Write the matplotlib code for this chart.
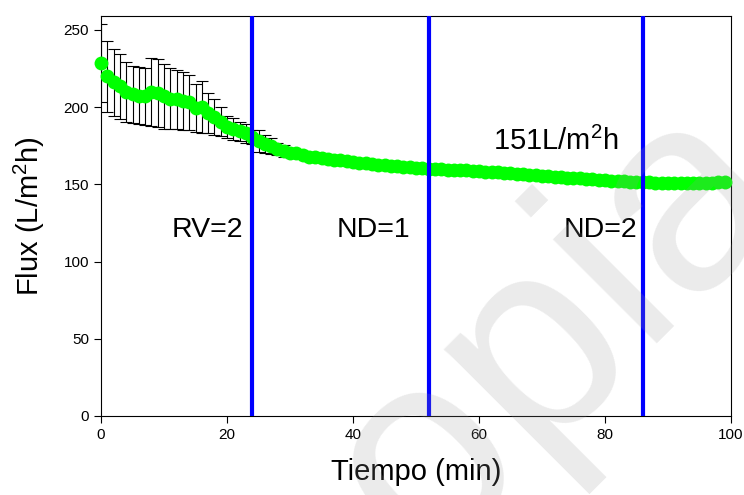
import numpy as np
import matplotlib
matplotlib.use("Agg")
import matplotlib.pyplot as plt

plt.rcParams['font.family'] = ['Liberation Sans', 'DejaVu Sans']
plt.rcParams['mathtext.fontset'] = 'custom'
plt.rcParams['mathtext.rm'] = 'Liberation Sans'
plt.rcParams['mathtext.it'] = 'Liberation Sans'

# time (min) and mean flux (L/m2h)
tiempo = list(range(100))
flux = [228.5, 220.0, 216.0, 213.5, 210.0, 208.4, 207.5, 207.0, 209.5, 209.0,
        207.0, 205.5, 205.0, 204.0, 203.0, 199.5, 200.0, 196.0, 193.5, 190.5,
        187.0, 186.0, 184.3, 183.0, 180.5, 178.0, 176.0, 174.7, 172.8, 171.7,
        170.5, 170.0, 169.0, 168.0, 167.5, 167.0, 166.5, 166.0, 165.5, 165.0,
        164.5, 164.0, 163.5, 163.0, 162.8, 162.5, 162.0, 161.7, 161.4, 161.0,
        160.8, 160.5, 160.2, 160.0, 159.8, 159.6, 159.4, 159.2, 159.0, 158.8,
        158.5, 158.2, 158.0, 157.7, 157.4, 157.1, 156.8, 156.5, 156.2, 155.9,
        155.6, 155.3, 155.0, 154.7, 154.4, 154.1, 153.8, 153.5, 153.2, 153.0,
        152.7, 152.4, 152.1, 151.9, 151.7, 151.5, 151.3, 151.2, 151.1, 151.0,
        151.0, 150.9, 150.9, 150.9, 151.0, 151.0, 151.1, 151.1, 151.2, 151.2]
# standard deviation, only measured for the first 30 min
err = [25.0, 23.0, 21.6, 21.0, 19.5, 18.5, 18.5, 18.5, 22.0, 22.0,
       21.0, 19.5, 19.0, 19.0, 18.0, 15.5, 17.0, 13.0, 11.5, 9.5,
       7.0, 7.0, 6.3, 6.0, 4.5, 7.0, 6.0, 5.2, 3.8, 3.8]

cambios = [24, 52, 86]
etiquetas = ['RV=2', 'ND=1', 'ND=2']

fig = plt.figure(figsize=(7.44, 4.95), dpi=100)
ax = fig.add_axes([0.1358, 0.1596, 0.8467, 0.8081])

n = len(err)
ax.errorbar(tiempo[:n], flux[:n], yerr=err, fmt='none', ecolor='black',
            elinewidth=0.8, capsize=4, capthick=0.8, zorder=2)
ax.plot(tiempo, flux, 'o', color='#00ff00', markersize=10,
        markeredgewidth=0, zorder=3, clip_on=False)

for xv in cambios:
    ax.axvline(xv, color='#0000ff', lw=3, zorder=4)

ax.text(22.5, 120.5, etiquetas[0], fontsize=20.5, ha='right', va='center')
ax.text(43.3, 120.5, etiquetas[1], fontsize=20.5, ha='center', va='center')
ax.text(79.2, 120.5, etiquetas[2], fontsize=20.5, ha='center', va='center')
ax.text(62.2, 178, r'151L/m$^2$h', fontsize=21, ha='left', va='center')

ax.set_xlim(0, 100)
ax.set_ylim(0, 259)
ax.set_xticks([0, 20, 40, 60, 80, 100])
ax.set_yticks([0, 50, 100, 150, 200, 250])
ax.tick_params(direction='out', length=5, width=0.8, labelsize=11,
               top=False, right=False)
for s in ax.spines.values():
    s.set_linewidth(0.8)

ax.set_xlabel('Tiempo (min)', fontsize=21, labelpad=12)
ax.set_ylabel(r'Flux (L/m$^2$h)', fontsize=21, labelpad=12)

# faint watermark over the figure
fig.text(0.437, -0.343, 'copia', fontsize=200, color='#999999', alpha=0.2,
         rotation=45, rotation_mode='anchor', ha='left', va='baseline',
         zorder=10)

fig.savefig('out.png', dpi=100)
